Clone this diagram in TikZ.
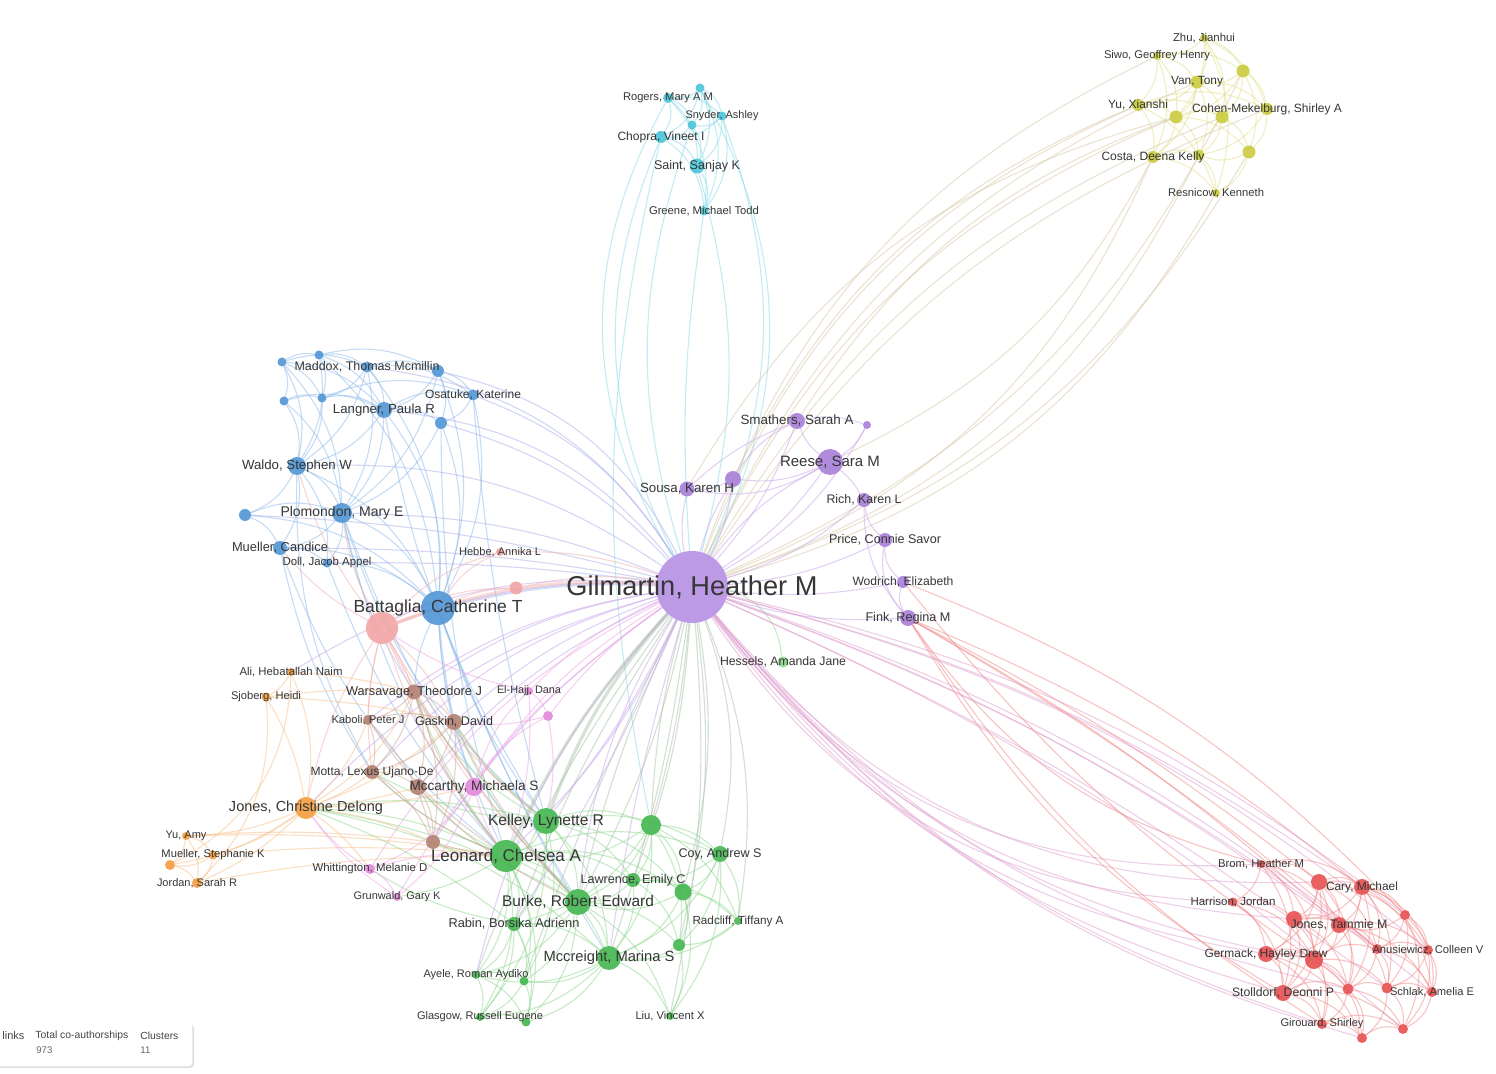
\documentclass[tikz,border=0pt]{standalone}
\usepackage{fontspec}
\setmainfont{Liberation Sans}
\usepackage{graphicx}
\usetikzlibrary{shadows}
\pgfdeclarelayer{bg}\pgfdeclarelayer{fg}\pgfsetlayers{bg,main,fg}
\definecolor{ncy}{HTML}{45C3D8}\definecolor{nye}{HTML}{CACA38}\definecolor{nbl}{HTML}{4A92D3}
\definecolor{nsa}{HTML}{F3A2A2}\definecolor{npu}{HTML}{A67CD8}\definecolor{ngm}{HTML}{B48DE3}
\definecolor{ngr}{HTML}{3EB54B}\definecolor{ngl}{HTML}{8CD88C}\definecolor{nbr}{HTML}{B07D6D}
\definecolor{nmg}{HTML}{E285D8}\definecolor{nor}{HTML}{F39A3A}\definecolor{nrd}{HTML}{E64A4C}
\definecolor{ecyc}{HTML}{86DAEA}\definecolor{eyec}{HTML}{E0E08A}\definecolor{eblc}{HTML}{8DBBEA}
\definecolor{esac}{HTML}{F2AFAF}\definecolor{epuc}{HTML}{C8A4EC}\definecolor{egrc}{HTML}{8ED88E}
\definecolor{ebrc}{HTML}{CCA497}\definecolor{emgc}{HTML}{EEA4E6}\definecolor{eorc}{HTML}{F7C089}
\definecolor{erdc}{HTML}{F28A8A}\definecolor{etanc}{HTML}{D8C8A6}\definecolor{eprc}{HTML}{E0A0D0}
\definecolor{epgc}{HTML}{A8C0A8}\definecolor{ebpc}{HTML}{A8AEEA}
\definecolor{lab}{HTML}{363636}\definecolor{legh}{HTML}{444444}\definecolor{legv}{HTML}{666666}
\newlength\pxu \setlength\pxu{0.5pt}
\tikzset{
  dot/.style={circle,inner sep=0pt,outer sep=0pt,fill opacity=0.88},
  lbl/.style={inner sep=0pt,text=lab},
  ed/.style={line width=0.55pt,draw opacity=0.5},
  ecy/.style={ed,draw=ecyc},eye/.style={ed,draw=eyec},ebl/.style={ed,draw=eblc},
  esa/.style={ed,draw=esac},epu/.style={ed,draw=epuc},egr/.style={ed,draw=egrc},
  ebr/.style={ed,draw=ebrc},emg/.style={ed,draw=emgc},eor/.style={ed,draw=eorc},
  erd/.style={ed,draw=erdc},etan/.style={ed,draw=etanc},epr/.style={ed,draw=eprc},
  epg/.style={ed,draw=epgc},ebp/.style={ed,draw=ebpc},
  thick edge/.style={line width=1.6pt,draw opacity=0.45},
  legtxt/.style={inner sep=0pt,anchor=west}
}
\newcommand\ND[5]{\node[dot,fill=#5,minimum size=#4pt] (#1) at (#2,#3) {};}
\newcommand\NL[7]{\ND{#1}{#2}{#3}{#4}{#5}%
  \begin{pgfonlayer}{fg}\node[lbl] (#1-l) at (#2,#3) {\resizebox{#6\pxu}{!}{#7}};\end{pgfonlayer}}
\begin{document}
\begin{tikzpicture}[x=0.5pt,y=-0.5pt]
\useasboundingbox (0,0) rectangle (1496,1074);
\begin{pgfonlayer}{bg}
\fill[white] (0,0) rectangle (1496,1074);
\end{pgfonlayer}
% ---------- cyan
\ND{cy1}{700}{88}{4.5}{ncy}
\NL{cy2}{668}{98}{5}{ncy}{90}{Rogers, Mary A M}
\NL{cy3}{722}{116}{4.5}{ncy}{73}{Snyder, Ashley}
\ND{cy4}{692}{125}{4.5}{ncy}
\NL{cy5}{661}{137}{6}{ncy}{87}{Chopra, Vineet I}
\NL{cy6}{697}{166}{7.5}{ncy}{86}{Saint, Sanjay K}
\NL{cy7}{704}{211}{4.5}{ncy}{110}{Greene, Michael Todd}
% ---------- yellow
\NL{ye1}{1204}{38}{4}{nye}{62}{Zhu, Jianhui}
\NL{ye2}{1157}{56}{4}{nye}{106}{Siwo, Geoffrey Henry}
\ND{ye3}{1243}{71}{6.5}{nye}
\NL{ye4}{1197}{82}{6.5}{nye}{52}{Van, Tony}
\NL{ye5}{1138}{105}{6}{nye}{60}{Yu, Xianshi}
\ND{ye6}{1176}{117}{6.5}{nye}
\ND{ye7}{1222}{117}{6.5}{nye}
\NL{ye8}{1267}{109}{6}{nye}{150}{Cohen-Mekelburg, Shirley A}
\ND{ye9}{1249}{152}{6.5}{nye}
\NL{ye10}{1153}{157}{6}{nye}{103}{Costa, Deena Kelly}
\ND{ye11}{1199}{155}{5.5}{nye}
\NL{ye12}{1216}{193}{4}{nye}{96}{Resnicow, Kenneth}
% ---------- blue
\ND{bl1}{282}{362}{4.5}{nbl}
\ND{bl2}{319}{355}{4.5}{nbl}
\NL{bl3}{367}{367}{5.5}{nbl}{145}{Maddox, Thomas Mcmillin}
\ND{bl4}{438}{371}{6}{nbl}
\ND{bl5}{284}{401}{4.5}{nbl}
\ND{bl6}{322}{398}{4.5}{nbl}
\NL{bl7}{384}{410}{8}{nbl}{102}{Langner, Paula R}
\NL{bl8}{473}{395}{5.5}{nbl}{96}{Osatuke, Katerine}
\ND{bl9}{441}{423}{6}{nbl}
\NL{bl10}{297}{466}{9}{nbl}{110}{Waldo, Stephen W}
\ND{bl11}{245}{515}{6}{nbl}
\NL{bl12}{342}{513}{10}{nbl}{123}{Plomondon, Mary E}
\NL{bl13}{280}{548}{7}{nbl}{96}{Mueller, Candice}
\NL{bl14}{327}{563}{4.5}{nbl}{89}{Doll, Jacob Appel}
% ---------- salmon
\ND{sa1}{382}{628}{16}{nsa}
\NL{sa2}{500}{552}{4}{nsa}{82}{Hebbe, Annika L}
\ND{sa3}{516}{588}{6.5}{nsa}
\NL{bl15}{438}{608}{17}{nbl}{169}{Battaglia, Catherine T}
% ---------- purple
\NL{pu0}{692}{587}{36}{ngm}{251}{Gilmartin, Heather M}
\NL{pu1}{797}{421}{8}{npu}{113}{Smathers, Sarah A}
\ND{pu2}{867}{425}{4}{npu}
\NL{pu3}{830}{462}{13}{npu}{100}{Reese, Sara M}
\ND{pu4}{733}{479}{8}{npu}
\NL{pu5}{687}{489}{7.5}{npu}{94}{Sousa, Karen H}
\NL{pu6}{864}{500}{7}{npu}{75}{Rich, Karen L}
\NL{pu7}{885}{540}{7}{npu}{112}{Price, Connie Savor}
\NL{pu8}{903}{582}{6}{npu}{101}{Wodrich, Elizabeth}
\NL{pu9}{908}{618}{8}{npu}{85}{Fink, Regina M}
% ---------- green
\NL{gr0}{783}{662}{5.5}{ngl}{126}{Hessels, Amanda Jane}
\NL{gr1}{546}{821}{13}{ngr}{116}{Kelley, Lynette R}
\ND{gr2}{651}{825}{10}{ngr}
\NL{gr3}{506}{856}{16}{ngr}{150}{Leonard, Chelsea A}
\NL{gr4}{720}{854}{8}{ngr}{83}{Coy, Andrew S}
\NL{gr5}{633}{880}{7}{ngr}{105}{Lawrence, Emily C}
\ND{gr6}{683}{892}{8.5}{ngr}
\NL{gr7}{578}{902}{13}{ngr}{152}{Burke, Robert Edward}
\NL{gr8}{738}{921}{4}{ngr}{91}{Radcliff, Tiffany A}
\NL{gr9}{514}{924}{7}{ngr}{131}{Rabin, Borsika Adrienn}
\ND{gr10}{679}{945}{6}{ngr}
\NL{gr11}{609}{958}{12}{ngr}{131}{Mccreight, Marina S}
\NL{gr12}{476}{975}{4}{ngr}{105}{Ayele, Roman Aydiko}
\ND{gr13}{524}{981}{4.5}{ngr}
\NL{gr14}{480}{1017}{4}{ngr}{126}{Glasgow, Russell Eugene}
\ND{gr15}{526}{1022}{4.5}{ngr}
\NL{gr16}{670}{1016}{4}{ngr}{69}{Liu, Vincent X}
% ---------- brown
\NL{br1}{414}{692}{7.5}{nbr}{136}{Warsavage, Theodore J}
\NL{br2}{368}{720}{5}{nbr}{73}{Kaboli, Peter J}
\NL{br3}{454}{722}{8}{nbr}{78}{Gaskin, David}
\NL{br4}{372}{772}{7}{nbr}{123}{Motta, Lexus Ujano-De}
\ND{br5}{418}{787}{8}{nbr}
\ND{br6}{433}{842}{7}{nbr}
% ---------- magenta
\NL{mg1}{529}{691}{4}{nmg}{64}{El-Hajj, Dana}
\ND{mg2}{548}{716}{5}{nmg}
\NL{mg3}{474}{787}{9}{nmg}{129}{Mccarthy, Michaela S}
\NL{mg4}{370}{869}{5}{nmg}{115}{Whittington, Melanie D}
\NL{mg5}{397}{897}{4}{nmg}{87}{Grunwald, Gary K}
% ---------- orange
\NL{or1}{291}{672}{4}{nor}{103}{Ali, Hebatallah Naim}
\NL{or2}{266}{697}{4.5}{nor}{70}{Sjoberg, Heidi}
\NL{or3}{306}{808}{11}{nor}{154}{Jones, Christine Delong}
\NL{or4}{186}{836}{4}{nor}{41}{Yu, Amy}
\NL{or5}{213}{855}{4.5}{nor}{103}{Mueller, Stephanie K}
\ND{or6}{170}{865}{5}{nor}
\NL{or7}{197}{883}{5}{nor}{80}{Jordan, Sarah R}
% ---------- red
\NL{rd1}{1261}{864}{4}{nrd}{86}{Brom, Heather M}
\ND{rd2}{1319}{882}{8}{nrd}
\NL{rd3}{1362}{887}{8}{nrd}{72}{Cary, Michael}
\NL{rd4}{1233}{902}{4.5}{nrd}{85}{Harrison, Jordan}
\ND{rd5}{1405}{915}{5}{nrd}
\ND{rd6}{1294}{919}{8}{nrd}
\NL{rd7}{1339}{925}{8}{nrd}{97}{Jones, Tammie M}
\NL{rd8}{1266}{954}{8}{nrd}{123}{Germack, Hayley Drew}
\ND{rd9}{1314}{960}{9}{nrd}
\ND{rd10}{1377}{949}{5}{nrd}
\NL{rd11}{1428}{950}{5}{nrd}{111}{Anusiewicz, Colleen V}
\NL{rd12}{1283}{993}{8}{nrd}{102}{Stolldorf, Deonni P}
\ND{rd13}{1348}{989}{5.5}{nrd}
\ND{rd14}{1387}{988}{5.5}{nrd}
\NL{rd15}{1432}{992}{5}{nrd}{84}{Schlak, Amelia E}
\NL{rd16}{1322}{1024}{5}{nrd}{83}{Girouard, Shirley}
\ND{rd17}{1362}{1038}{5}{nrd}
\ND{rd18}{1403}{1029}{5}{nrd}
% ================= edges
\begin{pgfonlayer}{bg}
\foreach \a/\b in {cy1/cy2,cy1/cy3,cy1/cy4,cy1/cy5,cy1/cy6,cy2/cy3,cy2/cy4,cy2/cy5,cy2/cy6,cy3/cy4,cy3/cy5,cy3/cy6,cy4/cy5,cy4/cy6,cy5/cy6,cy6/cy7,cy5/cy7,cy2/cy7,cy3/cy7,cy1/cy7}
  {\draw[ecy] (\a) to[bend left=25] (\b);}
\foreach \a/\b/\c in {cy2/pu0/-30,cy5/pu0/-25,cy4/pu0/-18,cy7/pu0/-6,cy6/pu0/15,cy3/pu0/22,cy1/pu0/28,cy5/gr2/-12}
  {\draw[ecy] (\a) to[bend left=\c] (\b);}
\foreach \a/\b in {ye1/ye2,ye1/ye3,ye1/ye4,ye1/ye6,ye1/ye7,ye1/ye8,ye2/ye4,ye2/ye5,ye2/ye6,ye2/ye3,ye3/ye4,ye3/ye7,ye3/ye8,ye3/ye9,ye3/ye6,ye4/ye5,ye4/ye6,ye4/ye7,ye4/ye8,ye4/ye10,ye4/ye11,ye5/ye6,ye5/ye7,ye5/ye8,ye5/ye10,ye5/ye12,ye6/ye7,ye6/ye10,ye6/ye11,ye6/ye9,ye7/ye8,ye7/ye9,ye7/ye11,ye7/ye10,ye8/ye9,ye8/ye11,ye9/ye11,ye9/ye12,ye10/ye11,ye10/ye12,ye11/ye12,ye2/ye10,ye1/ye12}
  {\draw[eye] (\a) to[bend left=22] (\b);}
\foreach \a/\b/\c in {pu0/ye5/22,pu0/ye2/22,pu0/ye6/20,pu0/ye4/20,pu0/ye7/18,pu0/ye8/17,pu4/ye5/20,pu1/ye6/18,pu5/ye6/22,pu0/ye10/-22,pu0/ye11/-22,pu0/ye12/-22,pu0/ye9/-20,pu3/ye10/-18,pu0/ye3/-20}
  {\draw[etan] (\a) to[bend left=\c] (\b);}
\foreach \a/\b in {bl1/bl2,bl1/bl3,bl1/bl5,bl1/bl6,bl1/bl7,bl1/bl10,bl1/bl12,bl2/bl3,bl2/bl4,bl2/bl6,bl2/bl7,bl2/bl10,bl3/bl4,bl3/bl6,bl3/bl7,bl3/bl8,bl3/bl10,bl3/bl12,bl4/bl8,bl4/bl7,bl4/bl9,bl4/bl12,bl5/bl6,bl5/bl10,bl5/bl7,bl5/bl12,bl6/bl7,bl6/bl8,bl6/bl10,bl7/bl8,bl7/bl9,bl7/bl10,bl7/bl12,bl7/bl15,bl8/bl9,bl8/bl15,bl9/bl15,bl9/bl12,bl10/bl11,bl10/bl12,bl10/bl13,bl10/bl14,bl10/bl15,bl11/bl12,bl11/bl13,bl11/bl15,bl12/bl13,bl12/bl14,bl12/bl15,bl13/bl14,bl13/bl15,bl14/bl15,bl4/bl15,bl3/bl15,bl2/bl15}
  {\draw[ebl] (\a) to[bend left=20] (\b);}
\draw[ebp,thick edge] (bl15) to[bend left=8] (pu0);
\foreach \a/\b/\c in {bl10/pu0/18,bl12/pu0/10,bl7/pu0/22,bl8/pu0/18,bl4/pu0/25,bl9/pu0/15,bl13/pu0/5,bl14/pu0/4,bl3/pu0/25,bl11/pu0/6}
  {\draw[ebp] (\a) to[bend left=\c] (\b);}
\foreach \a/\b/\c in {bl15/gr3/-10,bl15/gr1/-8,bl15/br1/-10,bl15/br3/-5,bl15/gr7/-5,bl15/mg3/-8,bl12/gr3/-12,bl12/br1/-10,bl12/gr1/-15,bl7/gr1/-10,bl9/gr3/-8,bl8/gr1/-5,bl13/gr3/-15,bl10/br4/-15,bl13/br4/-10,bl12/gr7/-10,bl15/gr11/-5,bl14/gr3/-10}
  {\draw[ebl] (\a) to[bend left=\c] (\b);}
\draw[esa,thick edge] (sa1) to[bend left=12] (pu0);
\draw[esa,thick edge] (sa1) to (bl15);
\foreach \a/\b/\c in {sa1/sa2/15,sa1/sa3/15,sa3/pu0/10,sa2/pu0/10,sa1/br1/5,sa1/br3/10,sa1/br2/-5,sa1/br4/-10,sa1/gr3/-10,sa1/gr1/-10,sa1/or3/-10,sa1/bl12/10,sa1/bl10/10,sa1/mg3/-5,sa3/bl15/-10,sa2/bl15/-15,sa1/gr7/-8,sa1/bl13/10}
  {\draw[esa] (\a) to[bend left=\c] (\b);}
\foreach \a/\b/\c in {pu0/pu1/-10,pu0/pu2/-15,pu0/pu3/-10,pu0/pu4/-10,pu0/pu5/10,pu0/pu6/-12,pu0/pu7/-10,pu0/pu8/-8,pu0/pu9/-10,pu3/pu1/15,pu3/pu2/-15,pu1/pu2/15,pu3/pu4/15,pu3/pu6/10,pu6/pu7/-20,pu7/pu8/-25,pu8/pu9/-25,pu3/pu5/20,pu4/pu5/15,pu1/pu4/-15,pu6/pu9/-20,pu7/pu9/-25,pu1/pu5/-10,pu0/pu4/8,pu0/pu3/12}
  {\draw[epu] (\a) to[bend left=\c] (\b);}
\draw[epg,thick edge] (pu0) to[bend left=-10] (gr1);
\draw[epg,thick edge] (pu0) to[bend left=-8] (gr3);
\foreach \a/\b/\c in {pu0/gr2/5,pu0/gr7/-5,pu0/gr11/5,pu0/gr5/8,pu0/gr6/12,pu0/gr4/15,pu0/gr9/-6,pu0/gr10/10,pu0/gr8/15,pu0/gr16/8,pu0/gr13/-3,pu0/gr12/-8,pu0/gr2/-6,pu0/gr7/8}
  {\draw[epg] (\a) to[bend left=\c] (\b);}
\foreach \a/\b/\c in {pu0/gr1/6,pu0/gr3/10,pu0/gr7/-12,pu0/gr11/-4,pu0/gr9/4,pu0/gr12/-14}
  {\draw[epu] (\a) to[bend left=\c] (\b);}
\draw[egr] (pu0) to[bend left=35] (gr0);
\foreach \a/\b/\c in {pu0/br1/-12,pu0/br3/-10,pu0/br4/-15,pu0/br5/-12,pu0/br6/-10,pu0/br2/-14,pu0/or3/-15,pu0/or1/-18}
  {\draw[epu] (\a) to[bend left=\c] (\b);}
\foreach \a/\b/\c in {pu0/mg1/-10,pu0/mg2/-8,pu0/mg3/-12,pu0/mg4/-15,pu0/mg5/-12}
  {\draw[emg] (\a) to[bend left=\c] (\b);}
\foreach \a/\b/\c in {pu0/rd1/-28,pu0/rd2/-26,pu0/rd4/-27,pu0/rd6/-24,pu0/rd8/-22,pu0/rd9/-20,pu0/rd12/-18,pu0/rd13/-18,pu0/rd16/-16,pu0/rd17/-17,pu0/rd3/10,pu0/rd5/12,pu0/rd7/8,pu0/rd10/8,pu0/rd11/12,pu0/rd14/6,pu0/rd15/10,pu0/rd18/8}
  {\draw[epr] (\a) to[bend left=\c] (\b);}
\foreach \a/\b/\c in {pu9/rd3/8,pu9/rd7/6,pu9/rd2/5,pu8/rd5/12,pu9/rd10/5,pu9/rd1/-20,pu9/rd12/-14,pu9/rd16/-12,pu8/rd9/-8}
  {\draw[erd] (\a) to[bend left=\c] (\b);}
\foreach \a/\b in {gr1/gr2,gr1/gr3,gr1/gr5,gr1/gr7,gr1/gr9,gr1/gr11,gr1/gr4,gr1/gr6,gr1/gr13,gr2/gr3,gr2/gr4,gr2/gr5,gr2/gr6,gr2/gr7,gr2/gr10,gr2/gr11,gr2/gr8,gr3/gr5,gr3/gr7,gr3/gr9,gr3/gr11,gr3/gr12,gr3/gr14,gr3/gr6,gr3/gr4,gr3/gr13,gr4/gr5,gr4/gr6,gr4/gr8,gr4/gr10,gr4/gr11,gr5/gr6,gr5/gr7,gr5/gr11,gr5/gr10,gr6/gr7,gr6/gr8,gr6/gr10,gr6/gr11,gr7/gr9,gr7/gr10,gr7/gr11,gr7/gr12,gr7/gr13,gr7/gr15,gr8/gr10,gr8/gr11,gr9/gr11,gr9/gr12,gr9/gr13,gr9/gr14,gr9/gr15,gr10/gr11,gr11/gr12,gr11/gr13,gr11/gr14,gr11/gr15,gr11/gr16,gr12/gr13,gr12/gr14,gr12/gr15,gr13/gr14,gr13/gr15,gr14/gr15,gr6/gr16,gr10/gr16,gr4/gr16,gr1/gr14,gr3/gr15,gr2/gr9,gr7/gr16,gr5/gr8}
  {\draw[egr] (\a) to[bend left=20] (\b);}
\foreach \a/\b/\c in {gr3/or3/-10,gr1/or3/-10,gr3/br6/10,gr3/br5/10,gr1/br1/15,gr7/br3/10,gr3/br4/10,gr1/br4/12,gr9/mg4/10,gr3/mg5/10,gr7/or3/-10,gr11/or3/-15,gr3/br1/8,gr1/br3/8,gr9/or3/-8}
  {\draw[egr] (\a) to[bend left=\c] (\b);}
\foreach \a/\b/\c in {or3/or1/-15,or3/or2/-10,or3/or4/10,or3/or5/10,or3/or6/12,or3/or7/10,or3/br4/-8,or3/br5/-5,or3/br2/-12,or3/br1/-15,or3/mg3/-5,or3/br6/8,or3/br3/-10,or3/mg4/8,or1/or2/15,or2/or7/25,or1/or6/30,or4/or5/20,or4/or6/20,or5/or6/20,or5/or7/20,or6/or7/20,or4/or7/20,or7/gr3/5,or4/gr3/5,or2/br3/5,or1/br1/5,or2/br1/5,or5/gr3/5,or4/br6/5}
  {\draw[eor] (\a) to[bend left=\c] (\b);}
\foreach \a/\b in {br1/br2,br1/br3,br1/br4,br1/br5,br2/br3,br2/br4,br3/br4,br3/br5,br4/br5,br4/br6,br5/br6,br1/br6,br3/br6,br2/br6}
  {\draw[ebr] (\a) to[bend left=15] (\b);}
\foreach \a/\b/\c in {br1/gr3/-10,br3/gr1/-10,br4/gr3/-10,br5/gr7/-10,br6/gr3/-5,br2/gr3/-10,br3/gr7/-8,br1/gr7/-5}
  {\draw[ebr] (\a) to[bend left=\c] (\b);}
\foreach \a/\b/\c in {mg3/mg1/15,mg3/mg2/15,mg1/mg2/15,mg3/mg4/15,mg3/mg5/15,mg4/mg5/15,mg3/gr3/-10,mg3/br5/10,mg4/or3/10,mg5/or3/10,mg2/gr1/10,mg1/sa1/10,mg2/br3/10,mg4/gr3/10,mg1/gr3/10}
  {\draw[emg] (\a) to[bend left=\c] (\b);}
\foreach \a/\b in {rd1/rd2,rd1/rd3,rd1/rd4,rd1/rd6,rd1/rd7,rd1/rd9,rd1/rd12,rd2/rd3,rd2/rd5,rd2/rd6,rd2/rd7,rd2/rd8,rd2/rd9,rd2/rd10,rd2/rd12,rd2/rd13,rd3/rd5,rd3/rd6,rd3/rd7,rd3/rd9,rd3/rd10,rd3/rd11,rd3/rd13,rd3/rd14,rd4/rd6,rd4/rd8,rd4/rd12,rd4/rd9,rd5/rd7,rd5/rd10,rd5/rd11,rd5/rd14,rd5/rd15,rd6/rd7,rd6/rd8,rd6/rd9,rd6/rd12,rd6/rd13,rd6/rd10,rd7/rd8,rd7/rd9,rd7/rd10,rd7/rd11,rd7/rd13,rd7/rd14,rd7/rd15,rd8/rd9,rd8/rd12,rd8/rd16,rd8/rd13,rd9/rd10,rd9/rd12,rd9/rd13,rd9/rd14,rd9/rd16,rd9/rd17,rd10/rd11,rd10/rd14,rd10/rd15,rd10/rd13,rd11/rd15,rd11/rd18,rd11/rd14,rd12/rd13,rd12/rd16,rd12/rd17,rd13/rd14,rd13/rd16,rd13/rd17,rd13/rd18,rd14/rd15,rd14/rd18,rd14/rd17,rd15/rd18,rd16/rd17,rd17/rd18,rd16/rd18,rd12/rd18,rd8/rd17,rd3/rd15,rd6/rd16,rd2/rd11,rd5/rd18}
  {\draw[erd] (\a) to[bend left=25] (\b);}
\end{pgfonlayer}
% ---------- legend
\node[fill=white,rounded corners=2pt,drop shadow={opacity=0.25,shadow xshift=0.8pt,shadow yshift=-0.8pt},minimum width=101pt,minimum height=22pt,anchor=north west,inner sep=0pt] (leg) at (-10,1022) {};
\node[legtxt,text=legh] (lg1) at (2,1036) {\resizebox{22\pxu}{!}{links}};
\node[legtxt,text=legh] (lg2) at (35,1036) {\resizebox{93\pxu}{!}{Total co-authorships}};
\node[legtxt,text=legh] (lg3) at (140,1036) {\resizebox{38\pxu}{!}{Clusters}};
\node[legtxt,text=legv] (lg4) at (36,1050) {\resizebox{16\pxu}{!}{973}};
\node[legtxt,text=legv] (lg5) at (140,1050) {\resizebox{10\pxu}{!}{11}};
\end{tikzpicture}
\end{document}
